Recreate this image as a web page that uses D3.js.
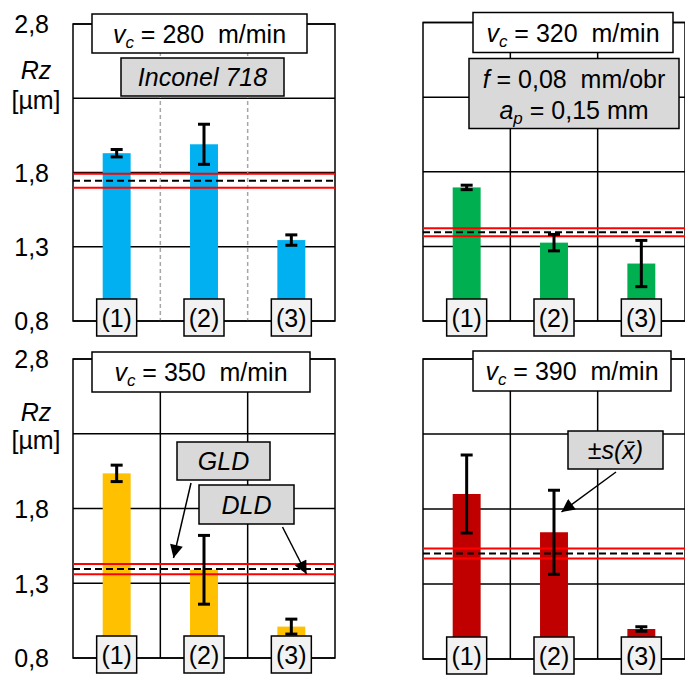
<!DOCTYPE html>
<html>
<head>
<meta charset="utf-8">
<script src="https://cdn.jsdelivr.net/npm/d3@7"></script>
<style>
    body { margin: 0; background: #fff; }
    svg text { font-family: "Liberation Sans", Arial, sans-serif; white-space: pre; }
</style>
</head>
<body>
<div id="canvas"></div>
<script>
// data
const categories = ["(1)", "(2)", "(3)"];
const speeds = ["280", "320", "350", "390"];
const barColors = ["#00b0f0", "#00b050", "#ffc000", "#c00000"];
const rzMean = [
    [1.93, 1.99, 1.345],
    [1.695, 1.325, 1.185],
    [2.035, 1.39, 1.01],
    [1.9, 1.645, 1.0]
];
const rzSd = [
    [0.025, 0.135, 0.035],
    [0.015, 0.055, 0.155],
    [0.055, 0.23, 0.05],
    [0.26, 0.28, 0.015]
];
const refMean = [1.745, 1.395, 1.395, 1.503];
const refDev = [0.047, 0.027, 0.034, 0.033];
const yTicks = [0.8, 1.3, 1.8, 2.3, 2.8];
const yTickLabels = [0.8, 1.3, 1.8, 2.8];

const panelW = 262;
const fontSize = 25;

const panels = [
    { left: 73, top: 24, bottom: 321, yLabels: true, dashedGrid: true, axisTitleY: [46, 76],
      title: { x: 19, y: -10, w: 215, h: 39 } },
    { left: 423, top: 22.5, bottom: 321, yLabels: false, dashedGrid: false,
      title: { x: 50, y: -10, w: 200, h: 40 } },
    { left: 73, top: 359, bottom: 658, yLabels: true, dashedGrid: false, axisTitleY: [53, 81],
      title: { x: 19, y: -7, w: 218, h: 40 } },
    { left: 423, top: 359, bottom: 659, yLabels: false, dashedGrid: false,
      title: { x: 50, y: -8, w: 198, h: 40 } }
];

const svg = d3.select('#canvas').append("svg")
    .attr("width", 685)
    .attr("height", 677);

const defs = svg.append("defs");
defs.append("marker")
    .attr("id", "arrow")
    .attr("viewBox", "0 0 10 10")
    .attr("refX", 10)
    .attr("refY", 5)
    .attr("markerWidth", 15)
    .attr("markerHeight", 13)
    .attr("markerUnits", "userSpaceOnUse")
    .attr("orient", "auto")
    .append("path")
    .attr("d", "M0,0L10,5L0,10Z")
    .attr("fill", "#000");

function box(g, b, fill) {
    g.append("rect")
        .attr("x", b.x).attr("y", b.y)
        .attr("width", b.w).attr("height", b.h)
        .attr("fill", fill)
        .attr("stroke", "#000")
        .attr("stroke-width", 1.5);
}

function arrow(g, x1, y1, x2, y2) {
    g.append("line")
        .attr("x1", x1).attr("y1", y1)
        .attr("x2", x2).attr("y2", y2)
        .attr("stroke", "#000")
        .attr("stroke-width", 1.5)
        .attr("marker-end", "url(#arrow)");
}

// writes "v_c = 280  m/min" style text
function speedText(g, b, speed) {
    const t = g.append("text")
        .attr("x", b.x + b.w / 2)
        .attr("y", b.y + b.h / 2 + 9)
        .attr("text-anchor", "middle")
        .attr("font-size", fontSize);
    t.append("tspan").attr("font-style", "italic").text("v");
    t.append("tspan").attr("font-style", "italic").attr("font-size", 17).attr("dy", 5).text("c");
    t.append("tspan").attr("dy", -5).text(` = ${speed}  m/min`);
}

panels.forEach((p, i) => {
    const h = p.bottom - p.top;
    const g = svg.append("g")
        .attr("transform", `translate(${p.left}, ${p.top})`);

    const y = d3.scaleLinear()
        .domain([0.8, 2.8])
        .range([h, 0]);

    const x = d3.scaleBand()
        .domain(categories)
        .range([0, panelW]);

    const barW = x.bandwidth() * 0.32;
    const cx = j => x(categories[j]) + x.bandwidth() / 2;

    // grid
    g.selectAll(".hgrid").data(yTicks).join("line")
        .attr("x1", 0).attr("x2", panelW)
        .attr("y1", d => y(d)).attr("y2", d => y(d))
        .attr("stroke", "#000")
        .attr("stroke-width", 1.5);

    g.selectAll(".vgrid").data(categories.slice(1)).join("line")
        .attr("x1", d => x(d)).attr("x2", d => x(d))
        .attr("y1", 0).attr("y2", h)
        .attr("stroke", p.dashedGrid ? "#a6a6a6" : "#000")
        .attr("stroke-width", 1.5)
        .attr("stroke-dasharray", p.dashedGrid ? "4,3" : null);

    g.append("rect")
        .attr("x", 0).attr("y", 0)
        .attr("width", panelW).attr("height", h)
        .attr("fill", "none")
        .attr("stroke", "#000")
        .attr("stroke-width", 1.5);

    // bars
    g.selectAll(".bar").data(rzMean[i]).join("rect")
        .attr("x", (d, j) => cx(j) - barW / 2)
        .attr("y", d => y(d))
        .attr("width", barW)
        .attr("height", d => y(0.8) - y(d))
        .attr("fill", barColors[i]);

    // reference band
    [refMean[i] + refDev[i], refMean[i] - refDev[i]].forEach(v => {
        g.append("line")
            .attr("x1", 0).attr("x2", panelW)
            .attr("y1", y(v)).attr("y2", y(v))
            .attr("stroke", "#ff0000")
            .attr("stroke-width", 2);
    });
    g.append("line")
        .attr("x1", 0).attr("x2", panelW)
        .attr("y1", y(refMean[i])).attr("y2", y(refMean[i]))
        .attr("stroke", "#000")
        .attr("stroke-width", 2)
        .attr("stroke-dasharray", "7,4");

    // error bars
    rzMean[i].forEach((m, j) => {
        const s = rzSd[i][j];
        const c = cx(j);
        g.append("line")
            .attr("x1", c).attr("x2", c)
            .attr("y1", y(m - s)).attr("y2", y(m + s))
            .attr("stroke", "#000").attr("stroke-width", 3);
        [m - s, m + s].forEach(v => {
            g.append("line")
                .attr("x1", c - 6).attr("x2", c + 6)
                .attr("y1", y(v)).attr("y2", y(v))
                .attr("stroke", "#000").attr("stroke-width", 3);
        });
    });

    // category boxes
    categories.forEach((c, j) => {
        const b = { x: cx(j) - 20, y: h - 22, w: 40, h: 37 };
        box(g, b, "#f2f2f2");
        g.append("text")
            .attr("x", cx(j))
            .attr("y", b.y + b.h / 2 + 9)
            .attr("text-anchor", "middle")
            .attr("font-size", fontSize)
            .text(c);
    });

    // speed title
    box(g, p.title, "#fff");
    speedText(g, p.title, speeds[i]);

    // y axis labels
    if (p.yLabels) {
        const yAxis = d3.axisLeft(y)
            .tickValues(yTickLabels)
            .tickFormat(d => d3.format(".1f")(d).replace(".", ","))
            .tickSize(0)
            .tickPadding(24);
        const ag = g.append("g").call(yAxis);
        ag.select(".domain").remove();
        ag.attr("font-family", null).attr("font-size", null);
        ag.selectAll("text")
            .attr("font-size", fontSize)
            .attr("fill", "#000")
            .attr("dy", "0.35em");

        g.append("text")
            .attr("x", -37).attr("y", p.axisTitleY[0] + 9)
            .attr("text-anchor", "middle")
            .attr("font-size", fontSize)
            .attr("font-style", "italic")
            .text("Rz");
        g.append("text")
            .attr("x", -37).attr("y", p.axisTitleY[1] + 9)
            .attr("text-anchor", "middle")
            .attr("font-size", fontSize)
            .text("[µm]");
    }

    // per-panel annotations
    if (i === 0) {
        const b = { x: 48, y: 34, w: 163, h: 38 };
        box(g, b, "#d9d9d9");
        g.append("text")
            .attr("x", b.x + b.w / 2).attr("y", b.y + b.h / 2 + 9)
            .attr("text-anchor", "middle")
            .attr("font-size", fontSize)
            .attr("font-style", "italic")
            .text("Inconel 718");
    }
    if (i === 1) {
        const b = { x: 46, y: 36, w: 210, h: 70 };
        box(g, b, "#d9d9d9");
        const t1 = g.append("text")
            .attr("x", b.x + b.w / 2).attr("y", b.y + 29)
            .attr("text-anchor", "middle")
            .attr("font-size", fontSize);
        t1.append("tspan").attr("font-style", "italic").text("f");
        t1.append("tspan").text(" = 0,08  mm/obr");
        const t2 = g.append("text")
            .attr("x", b.x + b.w / 2).attr("y", b.y + 60)
            .attr("text-anchor", "middle")
            .attr("font-size", fontSize);
        t2.append("tspan").attr("font-style", "italic").text("a");
        t2.append("tspan").attr("font-style", "italic").attr("font-size", 17).attr("dy", 5).text("p");
        t2.append("tspan").attr("dy", -5).text(" = 0,15 mm");
    }
    if (i === 2) {
        arrow(g, 118, 124, 100.5, 199);
        arrow(g, 209.5, 168, 233.5, 215);
        const b1 = { x: 104, y: 83, w: 93, h: 38 };
        const b2 = { x: 126, y: 126, w: 95, h: 39 };
        [[b1, "GLD"], [b2, "DLD"]].forEach(([b, label]) => {
            box(g, b, "#d9d9d9");
            g.append("text")
                .attr("x", b.x + b.w / 2).attr("y", b.y + b.h / 2 + 9)
                .attr("text-anchor", "middle")
                .attr("font-size", fontSize)
                .attr("font-style", "italic")
                .text(label);
        });
    }
    if (i === 3) {
        arrow(g, 193, 113, 138.5, 153);
        const b = { x: 145, y: 72, w: 95, h: 38 };
        box(g, b, "#d9d9d9");
        const t = g.append("text")
            .attr("x", b.x + b.w / 2).attr("y", b.y + b.h / 2 + 9)
            .attr("text-anchor", "middle")
            .attr("font-size", fontSize);
        t.append("tspan").text("±");
        t.append("tspan").attr("font-style", "italic").text("s(x\u0304)");
    }
});
</script>
</body>
</html>
